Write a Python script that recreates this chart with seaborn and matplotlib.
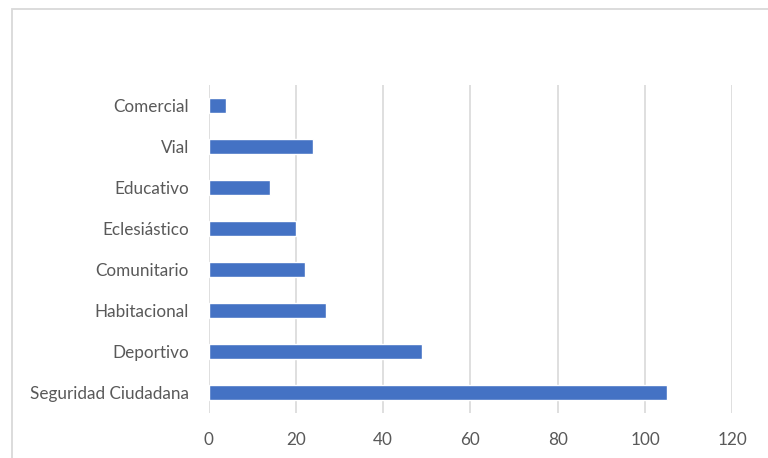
import matplotlib
matplotlib.use("Agg")
import matplotlib.pyplot as plt
import seaborn as sns
import pandas as pd
from matplotlib.patches import Rectangle

categories = ["Comercial", "Vial", "Educativo", "Eclesiástico", "Comunitario",
              "Habitacional", "Deportivo", "Seguridad Ciudadana"]
values = [4, 24, 14, 20, 22, 27, 49, 105]
xticks = [0, 20, 40, 60, 80, 100, 120]

df = pd.DataFrame({"cat": categories, "val": values})

sns.set_theme(style="white")
plt.rcParams['font.family'] = ['Lato', 'DejaVu Sans']

W, H = 768, 458
fig = plt.figure(figsize=(W / 100, H / 100), dpi=100)
ax = fig.add_axes([208.5 / W, 1 - 413 / H, (732.3 - 208.5) / W, (413 - 85) / H])

sns.barplot(data=df, y="cat", x="val", orient="h", color="#4472C4",
            saturation=1, width=0.36, ax=ax, order=categories)

ax.set_xlim(0, 120)
ax.set_ylim(7.5, -0.5)
ax.set_xticks(xticks)
ax.set_xticklabels([str(t) for t in xticks])
ax.set_xlabel("")
ax.set_ylabel("")
for s in ax.spines.values():
    s.set_visible(False)
ax.grid(axis="x", color="#D9D9D9", linewidth=1.2)
ax.grid(axis="y", visible=False)
ax.set_axisbelow(True)
ax.tick_params(axis="both", length=0, colors="#595959", labelsize=12.3)
ax.tick_params(axis="y", pad=14)
ax.tick_params(axis="x", pad=14)

# chart border (partly cropped)
fig.patches.append(Rectangle((11.5 / W, -0.1), 1.2, 1 - 8.5 / H + 0.1,
                             transform=fig.transFigure, fill=False,
                             edgecolor="#D9D9D9", linewidth=1.3))

fig.savefig("out.png", dpi=100)
